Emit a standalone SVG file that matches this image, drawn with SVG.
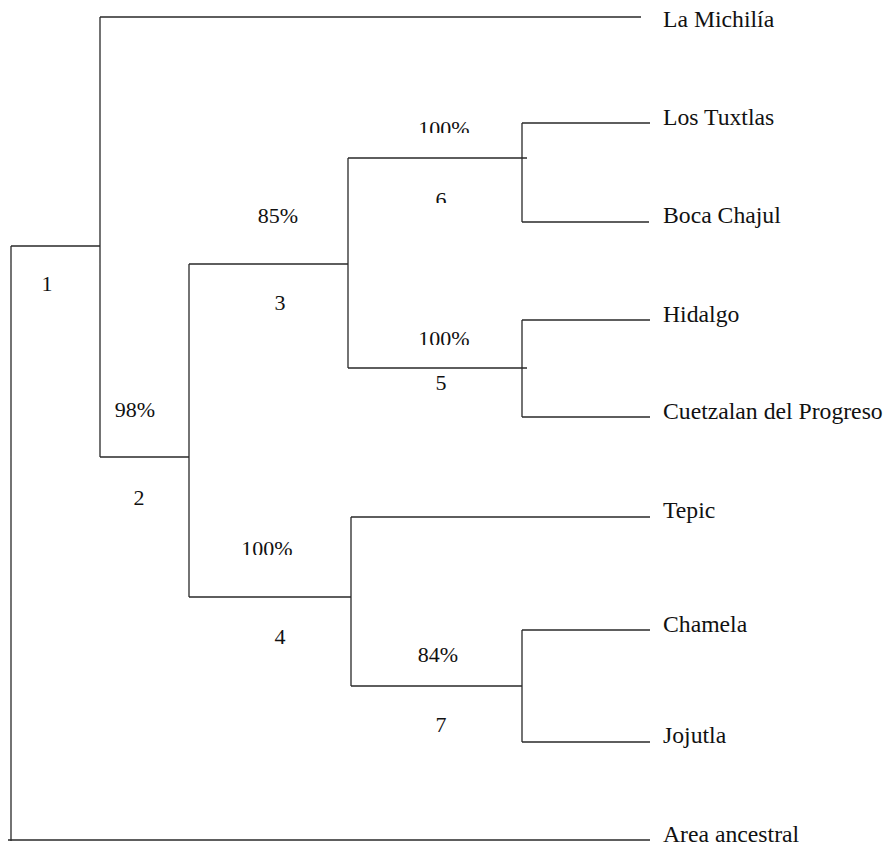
<svg xmlns="http://www.w3.org/2000/svg" width="887" height="846" viewBox="0 0 887 846">
<style>
.e{stroke:#2a2a2a;stroke-width:1.3;fill:none}
text{font-family:'Liberation Serif','Times New Roman',Times,serif;fill:#111}
.leaf{font-size:23.7px}
.lab{font-size:22px;text-anchor:middle}
</style>
<defs>
<clipPath id="c6a"><rect x="380" y="100" width="120" height="33"/></clipPath>
<clipPath id="c6b"><rect x="380" y="180" width="120" height="23"/></clipPath>
<clipPath id="c5a"><rect x="380" y="310" width="120" height="35"/></clipPath>
<clipPath id="c4a"><rect x="220" y="520" width="120" height="35"/></clipPath>
</defs>
<rect width="887" height="846" fill="#fff"/>
<g id="connectors">
<path class="e" d="M11 246V841M8 840H650M11 246H100M100 17V457M100 17H641M100 457H189M189 264V597M189 264H348M348 158V368M348 158H527M522 123V222M522 123H650M522 222H649M348 368H527M522 320V417M522 320H650M522 417H650M189 597H351M351 517V686M351 517H650M351 686H522M522 630V742M522 630H650M522 742H650"/>
</g>
<g id="leaf-la-michilia"><text class="leaf" x="663" y="27">La Michilía</text></g>
<g id="leaf-los-tuxtlas"><text class="leaf" x="663" y="125">Los Tuxtlas</text></g>
<g id="leaf-boca-chajul"><text class="leaf" x="663" y="223">Boca Chajul</text></g>
<g id="leaf-hidalgo"><text class="leaf" x="663" y="322">Hidalgo</text></g>
<g id="leaf-cuetzalan"><text class="leaf" x="663" y="419">Cuetzalan del Progreso</text></g>
<g id="leaf-tepic"><text class="leaf" x="663" y="518">Tepic</text></g>
<g id="leaf-chamela"><text class="leaf" x="663" y="632">Chamela</text></g>
<g id="leaf-jojutla"><text class="leaf" x="663" y="743">Jojutla</text></g>
<g id="leaf-area-ancestral"><text class="leaf" x="663" y="842">Area ancestral</text></g>
<g id="node-1"><text class="lab" x="47" y="291">1</text></g>
<g id="node-2"><text class="lab" x="135" y="417">98%</text><text class="lab" x="139" y="505">2</text></g>
<g id="node-3"><text class="lab" x="278" y="223">85%</text><text class="lab" x="280" y="310">3</text></g>
<g id="node-4"><text class="lab" x="267" y="556" clip-path="url(#c4a)">100%</text><text class="lab" x="280" y="644">4</text></g>
<g id="node-5"><text class="lab" x="444" y="346" clip-path="url(#c5a)">100%</text><text class="lab" x="441" y="390">5</text></g>
<g id="node-6"><text class="lab" x="444" y="136" clip-path="url(#c6a)">100%</text><text class="lab" x="441" y="207" clip-path="url(#c6b)">6</text></g>
<g id="node-7"><text class="lab" x="438" y="662">84%</text><text class="lab" x="441" y="732">7</text></g>
</svg>
